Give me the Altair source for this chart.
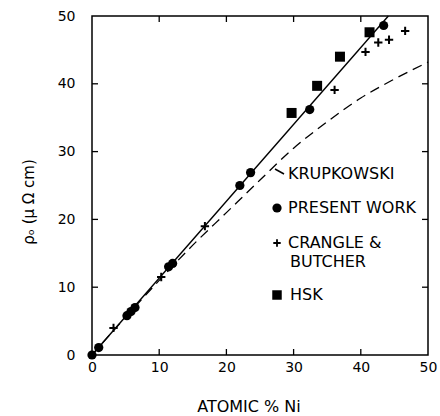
import altair as alt
import pandas as pd

# ---- data ----
present_x = [0.0, 1.0, 5.2, 5.8, 6.4, 11.4, 12.0, 22.0, 23.6, 32.4, 43.4]
present_y = [0.0, 1.1, 5.8, 6.4, 7.0, 13.0, 13.5, 25.0, 26.9, 36.2, 48.6]

crangle_x = [3.2, 10.3, 16.8, 36.1, 40.7, 42.6, 44.2, 46.6]
crangle_y = [4.0, 11.5, 19.0, 39.1, 44.7, 46.1, 46.5, 47.8]

hsk_x = [29.7, 33.5, 36.9, 41.3]
hsk_y = [35.7, 39.7, 44.0, 47.6]

krup_x = [0, 5, 10, 15, 20, 25, 30, 35, 40, 45, 50]
krup_y = [0, 5.6, 11.0, 16.2, 21.0, 25.8, 30.5, 34.4, 37.9, 40.7, 43.2]

fit_x = [0.0, 44.1]
fit_y = [0.0, 50.0]

tick_vals = [10, 20, 30, 40]
axis_vals = [0, 10, 20, 30, 40, 50]

W, H = 336, 339
FONT = "DejaVu Sans"

xs = alt.Scale(domain=[0, 50], nice=False, zero=False)
ys = alt.Scale(domain=[0, 50], nice=False, zero=False)

x_axis = alt.Axis(values=axis_vals, ticks=False, domain=False, grid=False, title=None,
                  labelFont=FONT, labelFontSize=14, labelColor="black", labelPadding=5,
                  labelFlush=False)
y_axis = alt.Axis(values=axis_vals, ticks=False, domain=False, grid=False, title=None,
                  labelFont=FONT, labelFontSize=14, labelColor="black", labelPadding=17,
                  labelFlush=False)

def X(field):
    return alt.X(field, type="quantitative", scale=xs, axis=x_axis)

def Y(field):
    return alt.Y(field, type="quantitative", scale=ys, axis=y_axis)

krup = alt.Chart(pd.DataFrame({"x": krup_x, "y": krup_y})).mark_line(
    color="black", strokeWidth=1.3, strokeDash=[10, 6], interpolate="monotone"
).encode(x=X("x"), y=Y("y"))

fit = alt.Chart(pd.DataFrame({"x": fit_x, "y": fit_y})).mark_line(
    color="black", strokeWidth=1.4
).encode(x=X("x"), y=Y("y"))

present = alt.Chart(pd.DataFrame({"x": present_x, "y": present_y})).mark_point(
    shape="circle", filled=True, color="black", size=85, opacity=1
).encode(x=X("x"), y=Y("y"))

crangle = alt.Chart(pd.DataFrame({"x": crangle_x, "y": crangle_y})).mark_point(
    shape="M-1,0H1M0,-1V1", filled=False, color="black", size=70, strokeWidth=2, opacity=1
).encode(x=X("x"), y=Y("y"))

hsk = alt.Chart(pd.DataFrame({"x": hsk_x, "y": hsk_y})).mark_point(
    shape="square", filled=True, color="black", size=100, opacity=1
).encode(x=X("x"), y=Y("y"))

tdf = pd.DataFrame({"v": tick_vals})
TL = 6
tick_left = alt.Chart(tdf).mark_rule(color="black", strokeWidth=1.3).encode(
    y=Y("v"), x=alt.value(0), x2=alt.value(TL))
tick_right = alt.Chart(tdf).mark_rule(color="black", strokeWidth=1.3).encode(
    y=Y("v"), x=alt.value(W - TL), x2=alt.value(W))
tick_bottom = alt.Chart(tdf).mark_rule(color="black", strokeWidth=1.3).encode(
    x=X("v"), y=alt.value(H), y2=alt.value(H - TL))
tick_top = alt.Chart(tdf).mark_rule(color="black", strokeWidth=1.3).encode(
    x=X("v"), y=alt.value(0), y2=alt.value(TL))

one = pd.DataFrame({"a": [0]})

def label(text, px, py, size=16, align="left", angle=0):
    return alt.Chart(one).mark_text(
        text=text, font=FONT, fontSize=size, color="black", align=align,
        baseline="middle", angle=angle
    ).encode(x=alt.value(px), y=alt.value(py))

def sym(shape, px, py, size, filled=True, sw=1):
    return alt.Chart(one).mark_point(
        shape=shape, filled=filled, color="black", size=size, strokeWidth=sw, opacity=1
    ).encode(x=alt.value(px), y=alt.value(py))

leader = alt.Chart(one).mark_rule(color="black", strokeWidth=1.5).encode(
    x=alt.value(183), x2=alt.value(192), y=alt.value(153), y2=alt.value(158))

legend = [
    leader,
    label("KRUPKOWSKI", 196, 158),
    sym("circle", 185, 192, 85),
    label("PRESENT WORK", 196, 192),
    sym("M-1,0H1M0,-1V1", 185, 227, 55, filled=False, sw=1.8),
    label("CRANGLE &", 196, 227),
    label("BUTCHER", 198, 246),
    sym("square", 185, 279, 90),
    label("HSK", 198, 279),
    label("ATOMIC % Ni", 157, 391, size=16, align="center"),
    label("ρₒ (μ Ω cm)", -63, 186, size=15, align="center", angle=270),
]

chart = alt.layer(
    krup, fit, tick_left, tick_right, tick_bottom, tick_top,
    present, crangle, hsk, *legend
).properties(
    width=W, height=H,
    autosize=alt.AutoSizeParams(type="none"),
    padding={"left": 92, "top": 16, "right": 12, "bottom": 61},
    background="white",
).configure_view(stroke="black", strokeWidth=1.5)

chart.save("out.html", embed_options={"renderer": "svg", "actions": False})
